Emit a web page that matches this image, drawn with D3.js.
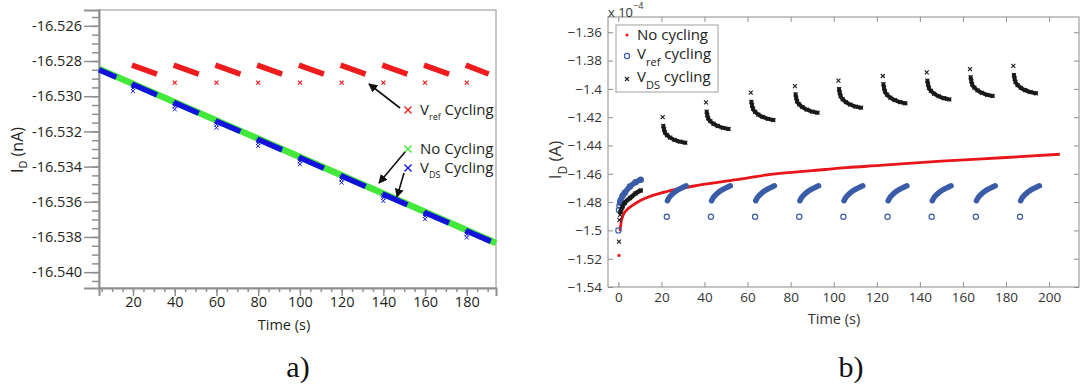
<!DOCTYPE html>
<html>
<head>
<meta charset="utf-8">
<script src="https://cdn.jsdelivr.net/npm/d3@7"></script>
<style>
html,body{margin:0;padding:0;background:#fff}
svg{display:block}
text{font-family:"Open Sans","Noto Sans",sans-serif}
</style>
</head>
<body>
<svg id="fig" width="1081" height="387"></svg>
<script>
'use strict';

/* ─────────────────────────────────────────────────────────
   PANEL a) DATA  (I_D in nA, time in s)
───────────────────────────────────────────────────────── */
const A_X_TICKS=[20,40,60,80,100,120,140,160,180];
const A_Y_TICKS=[-16.526,-16.528,-16.530,-16.532,-16.534,-16.536,-16.538,-16.540];

// No cycling: straight drift
const A_NOCYC_T=[3.7,194];
const A_NOCYC_V=[-16.52845,-16.53834];

// Vref cycling: each burst sits at the same level
const A_VREF_T0=[19.5,39.5,59.5,79.5,99.5,119.5,139.5,159.5,179.5];
const A_VREF_T1=[31.5,51.5,71.5,91.5,111.5,131.5,151.5,171.5,190.5];
const A_VREF_LEVEL=[-16.52823,-16.52874];
const A_VREF_DIP_T=[40,60,80,100,120,140,160,180];
const A_VREF_DIP_V=-16.52923;

// VDS cycling: bursts riding the no-cycling line
const A_VDS_T0=[3.7,19.5,39.5,59.5,79.5,99.5,119.5,139.5,159.5,179.5];
const A_VDS_T1=[12,31.5,51.5,71.5,91.5,111.5,131.5,151.5,171.5,191.5];
const A_VDS_V0=[-16.52849,-16.52931,-16.53035,-16.53139,-16.53243,-16.53347,-16.53451,-16.53555,-16.53659,-16.53763];
const A_VDS_V1=[-16.52892,-16.52993,-16.53097,-16.53201,-16.53305,-16.53409,-16.53513,-16.53617,-16.53721,-16.53825];
const A_VDS_KICK=[0.0001,0.00022,0.0004];

/* ─────────────────────────────────────────────────────────
   PANEL b) DATA  (I_D in 1e-4 A, time in s)
───────────────────────────────────────────────────────── */
const B_X_TICKS=[0,20,40,60,80,100,120,140,160,180,200];
const B_Y_TICKS=[-1.36,-1.38,-1.40,-1.42,-1.44,-1.46,-1.48,-1.50,-1.52,-1.54];

const B_NOCYC_T=[0.8,1.2,2.3,4,6.9,10,14.7,22.5,38,56.5,69,90,106,121.5,150,180,205];
const B_NOCYC_V=[-1.5005,-1.495,-1.489,-1.4855,-1.482,-1.479,-1.476,-1.4725,-1.4679,-1.4637,-1.4608,-1.4578,-1.4556,-1.4541,-1.451,-1.4485,-1.4462];
const B_NOCYC_FIRST=[0.3,-1.5177];

const B_VREF_FIRST_T=[0,0.3,0.5,0.8,1,2,3,5.4,8,10.4];
const B_VREF_FIRST_V=[-1.500,-1.4855,-1.4825,-1.4805,-1.479,-1.4755,-1.4734,-1.469,-1.466,-1.4642];
const B_VREF_T0=[22.5,43,63.5,84,104.5,125,145.5,166,186.5];
const B_VREF_DIP=-1.4904;
const B_VREF_DT=[0.3,1,2.5,4.5,6.5,9];
const B_VREF_V=[-1.479,-1.477,-1.4745,-1.472,-1.4703,-1.4685];

const B_VDS_FIRST_T=[0.3,0.5,0.8,1,2,3,5.4,8,10.4];
const B_VDS_FIRST_V=[-1.508,-1.4925,-1.489,-1.487,-1.483,-1.4805,-1.4772,-1.4738,-1.4718];
const B_VDS_T0=[20.6,40.7,61.5,82,102.2,122.8,143.2,163.3,183.4];
const B_VDS_TOP=[-1.4200,-1.4095,-1.4027,-1.3980,-1.3942,-1.3909,-1.3883,-1.3861,-1.3838];
const B_VDS_SECOND=[-1.4262,-1.4161,-1.4091,-1.4038,-1.4001,-1.3967,-1.3942,-1.3918,-1.3902];
const B_VDS_END=[-1.4380,-1.4283,-1.4220,-1.4168,-1.4133,-1.4102,-1.4074,-1.4050,-1.4031];
const B_VDS_DT=[0.3,0.6,1,2,3.5,5.5,8,10.5];
const B_VDS_FRAC=[0,0.2,0.38,0.55,0.7,0.83,0.94,1];

/* ─────────────────────────────────────────────────────────
   COLOURS
───────────────────────────────────────────────────────── */
const COL={
  aRed:'#ee1c1c', aGreen:'#44e83a', aBlue:'#1212dc',
  bRed:'#e8161b', bBlue:'#3a5ca8', bBlack:'#1a1a1a',
  axisA:'#8f8f8f', axisB:'#8c8c8c', txt:'#231f20'
};

const svg=d3.select('#fig');

svg.append('defs').append('marker')
  .attr('id','arr').attr('viewBox','0 0 10 10')
  .attr('refX',9).attr('refY',5)
  .attr('markerWidth',9).attr('markerHeight',9)
  .attr('markerUnits','userSpaceOnUse')
  .attr('orient','auto')
  .append('path').attr('d','M0,0L10,5L0,10z').attr('fill','#111');

function xMark(g,x,y,s,color,w){
  g.append('path')
    .attr('d',`M${x-s},${y-s}L${x+s},${y+s}M${x-s},${y+s}L${x+s},${y-s}`)
    .attr('stroke',color).attr('stroke-width',w||1.2).attr('fill','none');
}

/* ═══════════════════════════════════════════════════════════
   PANEL a)
══════════════════════════════════════════════════════════ */
const ax=d3.scaleLinear().domain([3.7,194]).range([99,496]);
const ay=d3.scaleLinear().domain([-16.5409,-16.5251]).range([288,10]);

const ga=svg.append('g');

// frame
ga.append('rect')
  .attr('x',99).attr('y',10).attr('width',397).attr('height',278)
  .attr('fill','none').attr('stroke','#b5b5b5').attr('stroke-width',1.5);

// minor ticks
ga.append('g').attr('transform','translate(99,0)')
  .call(d3.axisLeft(ay).tickValues(d3.range(-16.5405,-16.5252,0.0005)).tickSize(7).tickFormat(''))
  .call(g=>g.select('.domain').remove());
ga.append('g').attr('transform','translate(0,288)')
  .call(d3.axisBottom(ax).tickValues(d3.range(5,194,5)).tickSize(4).tickFormat(''))
  .call(g=>g.select('.domain').remove());

// major ticks + labels
ga.append('g').attr('class','ya').attr('transform','translate(99,0)')
  .call(d3.axisLeft(ay).tickValues(A_Y_TICKS).tickSize(15).tickPadding(2).tickFormat(d=>d.toFixed(3)));
ga.append('g').attr('class','xa').attr('transform','translate(0,288)')
  .call(d3.axisBottom(ax).tickValues(A_X_TICKS).tickSize(8).tickPadding(1));

ga.selectAll('.tick line').attr('stroke',COL.axisA).attr('stroke-width',1.5);
ga.selectAll('.domain').attr('stroke',COL.axisA).attr('stroke-width',2);
ga.selectAll('.tick text').attr('fill',COL.txt).style('font-size','14.5px')
  .style('font-family','"Open Sans","Noto Sans",sans-serif');

// titles
ga.append('text').attr('x',284).attr('y',330).attr('text-anchor','middle')
  .attr('fill',COL.txt).style('font-size','14.5px').text('Time (s)');
const yla=ga.append('text').attr('transform','translate(23,150) rotate(-90)')
  .attr('text-anchor','middle').attr('fill',COL.txt).style('font-size','16px');
yla.append('tspan').text('I');
yla.append('tspan').attr('dy',4).style('font-size','11px').text('D');
yla.append('tspan').attr('dy',-4).text(' (nA)');

// no cycling line
const lineA=d3.line().x(d=>ax(d[0])).y(d=>ay(d[1]));
ga.append('path')
  .attr('d',lineA(A_NOCYC_T.map((t,i)=>[t,A_NOCYC_V[i]])))
  .attr('stroke',COL.aGreen).attr('stroke-width',6.5).attr('fill','none');

// VDS bursts
A_VDS_T0.forEach((t0,i)=>{
  ga.append('path')
    .attr('d',lineA([[t0,A_VDS_V0[i]],[A_VDS_T1[i],A_VDS_V1[i]]]))
    .attr('stroke',COL.aBlue).attr('stroke-width',5.5).attr('fill','none');
  if(i>0){
    A_VDS_KICK.forEach(k=>xMark(ga,ax(t0+0.5),ay(A_VDS_V0[i]-k),2,COL.aBlue,1));
  }
});

// Vref bursts
A_VREF_T0.forEach((t0,i)=>{
  ga.append('path')
    .attr('d',lineA([[t0,A_VREF_LEVEL[0]],[A_VREF_T1[i],A_VREF_LEVEL[1]]]))
    .attr('stroke',COL.aRed).attr('stroke-width',5.5).attr('fill','none');
});
A_VREF_DIP_T.forEach(t=>xMark(ga,ax(t),ay(A_VREF_DIP_V),2,COL.aRed,1.2));

// annotations
function annot(g,x,y,color,main,sub,rest){
  xMark(g,x,y,3.5,color,1.4);
  const t=g.append('text').attr('x',x+12).attr('y',y+5)
    .attr('fill',COL.txt).style('font-size','15px');
  t.append('tspan').text(main);
  if(sub){
    t.append('tspan').attr('dy',5).style('font-size','9px').text(sub);
    t.append('tspan').attr('dy',-5).text(' '+rest);
  }
}
annot(ga,408,110,COL.aRed,'V','ref','Cycling');
annot(ga,408,149,COL.aGreen,'No Cycling');
annot(ga,408,168,COL.aBlue,'V','DS','Cycling');

[[400,108,369,84],[405,152,379,183],[404,173,397,197]].forEach(a=>{
  ga.append('line').attr('x1',a[0]).attr('y1',a[1]).attr('x2',a[2]).attr('y2',a[3])
    .attr('stroke','#111').attr('stroke-width',1.6).attr('marker-end','url(#arr)');
});

svg.append('text').attr('x',298).attr('y',377).attr('text-anchor','middle')
  .style('font-family','"Liberation Serif","DejaVu Serif",serif').style('font-size','30px')
  .attr('fill','#111').text('a)');

/* ═══════════════════════════════════════════════════════════
   PANEL b)
══════════════════════════════════════════════════════════ */
const bx=d3.scaleLinear().domain([-4.8,213.9]).range([608,1079]);
const by=d3.scaleLinear().domain([-1.54,-1.3492]).range([287,17]);

const gb=svg.append('g');
gb.append('rect')
  .attr('x',608).attr('y',17).attr('width',471).attr('height',270)
  .attr('fill','none').attr('stroke',COL.axisB).attr('stroke-width',1);

const minus=d=>String(+d.toFixed(2)).replace('-','\u2212');
gb.append('g').attr('transform','translate(608,0)')
  .call(d3.axisLeft(by).tickValues(B_Y_TICKS).tickSize(-5).tickPadding(6).tickFormat(minus));
gb.append('g').attr('transform','translate(1079,0)')
  .call(d3.axisRight(by).tickValues(B_Y_TICKS).tickSize(-5).tickFormat(''));
gb.append('g').attr('transform','translate(0,287)')
  .call(d3.axisBottom(bx).tickValues(B_X_TICKS).tickSize(-5).tickPadding(5));
gb.append('g').attr('transform','translate(0,17)')
  .call(d3.axisTop(bx).tickValues(B_X_TICKS).tickSize(-5).tickFormat(''));
gb.selectAll('.domain').remove();
gb.selectAll('.tick line').attr('stroke',COL.axisB);
gb.selectAll('.tick text').attr('fill','#333').style('font-size','13.5px')
  .style('font-family','"Open Sans","Noto Sans",sans-serif');

// exponent
const ex=gb.append('text').attr('x',608).attr('y',17).attr('fill','#333').style('font-size','13px');
ex.append('tspan').text('x 10');
ex.append('tspan').attr('dy',-8).style('font-size','9px').text('\u22124');

gb.append('text').attr('x',834).attr('y',324).attr('text-anchor','middle')
  .attr('fill','#333').style('font-size','14.5px').text('Time (s)');
const ylb=gb.append('text').attr('transform','translate(561,160) rotate(-90)')
  .attr('text-anchor','middle').attr('fill','#333').style('font-size','17px');
ylb.append('tspan').text('I');
ylb.append('tspan').attr('dy',6).style('font-size','12px').text('D');
ylb.append('tspan').attr('dy',-6).text('  (A)');

const lineB=d3.line().x(d=>bx(d[0])).y(d=>by(d[1])).curve(d3.curveMonotoneX);

// no cycling
gb.append('path')
  .attr('d',lineB(B_NOCYC_T.map((t,i)=>[t,B_NOCYC_V[i]])))
  .attr('stroke',COL.bRed).attr('stroke-width',2.8).attr('fill','none');
gb.append('circle').attr('cx',bx(B_NOCYC_FIRST[0])).attr('cy',by(B_NOCYC_FIRST[1]))
  .attr('r',1.6).attr('fill',COL.bRed);

// Vref cycling
const circ=(t,v)=>gb.append('circle').attr('cx',bx(t)).attr('cy',by(v)).attr('r',2.6)
  .attr('fill','none').attr('stroke',COL.bBlue).attr('stroke-width',1.2);
B_VREF_FIRST_T.forEach((t,i)=>circ(t,B_VREF_FIRST_V[i]));
gb.append('path')
  .attr('d',lineB(B_VREF_FIRST_T.slice(3).map((t,i)=>[t,B_VREF_FIRST_V[i+3]])))
  .attr('stroke',COL.bBlue).attr('stroke-width',5.5).attr('stroke-linecap','round').attr('fill','none');
B_VREF_T0.forEach(t0=>{
  circ(t0,B_VREF_DIP);
  gb.append('path')
    .attr('d',lineB(B_VREF_DT.map((dt,i)=>[t0+dt,B_VREF_V[i]])))
    .attr('stroke',COL.bBlue).attr('stroke-width',5.5).attr('stroke-linecap','round').attr('fill','none');
});

// VDS cycling
gb.append('path')
  .attr('d',lineB(B_VDS_FIRST_T.slice(3).map((t,i)=>[t,B_VDS_FIRST_V[i+3]])))
  .attr('stroke',COL.bBlack).attr('stroke-width',4.5).attr('stroke-linecap','round').attr('fill','none');
B_VDS_FIRST_T.forEach((t,i)=>xMark(gb,bx(t),by(B_VDS_FIRST_V[i]),2,COL.bBlack,1.1));
B_VDS_T0.forEach((t0,k)=>{
  const pts=B_VDS_DT.map((dt,i)=>[t0+dt,B_VDS_SECOND[k]+(B_VDS_END[k]-B_VDS_SECOND[k])*B_VDS_FRAC[i]]);
  gb.append('path').attr('d',lineB(pts))
    .attr('stroke',COL.bBlack).attr('stroke-width',4).attr('stroke-linecap','round').attr('fill','none');
  pts.forEach(p=>xMark(gb,bx(p[0]),by(p[1]),2,COL.bBlack,1.1));
  xMark(gb,bx(t0),by(B_VDS_TOP[k]),2,COL.bBlack,1.1);
});

// legend
const lg=gb.append('g');
lg.append('rect').attr('x',616).attr('y',25).attr('width',102).attr('height',67)
  .attr('fill','#fff').attr('stroke','#a0a0a0').attr('stroke-width',1);
lg.append('circle').attr('cx',627).attr('cy',35).attr('r',1.5).attr('fill',COL.bRed);
lg.append('circle').attr('cx',627).attr('cy',56).attr('r',2.6)
  .attr('fill','none').attr('stroke',COL.bBlue).attr('stroke-width',1.2);
xMark(lg,627,79,2,COL.bBlack,1.1);
const legTxt=(y,main,sub,rest)=>{
  const t=lg.append('text').attr('x',637).attr('y',y).attr('fill','#222').style('font-size','15px');
  t.append('tspan').text(main);
  if(sub){
    t.append('tspan').attr('dy',7).style('font-size','11px').text(sub);
    t.append('tspan').attr('dy',-7).text(' '+rest);
  }
};
legTxt(40,'No cycling');
legTxt(59,'V','ref','cycling');
legTxt(82,'V','DS','cycling');

svg.append('text').attr('x',851).attr('y',377).attr('text-anchor','middle')
  .style('font-family','"Liberation Serif","DejaVu Serif",serif').style('font-size','30px')
  .attr('fill','#111').text('b)');
</script>
</body>
</html>
